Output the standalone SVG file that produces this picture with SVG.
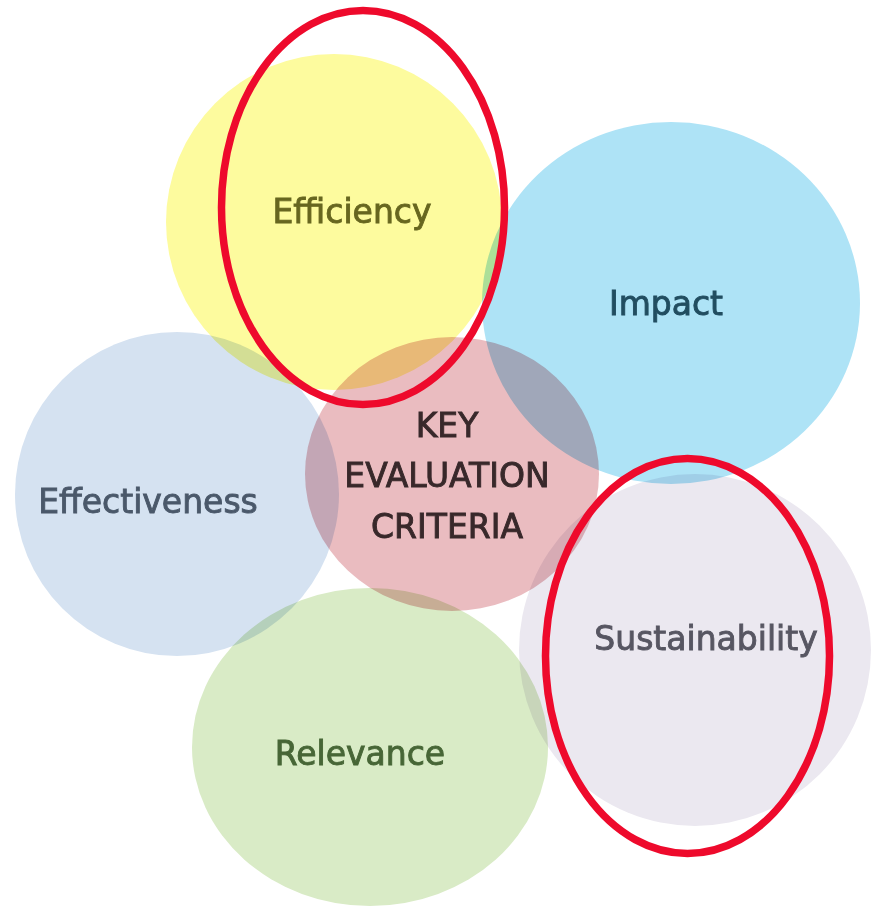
<svg xmlns="http://www.w3.org/2000/svg" width="879" height="908" viewBox="0 0 879 908">
  <style>
    .c { mix-blend-mode: multiply; }
    .t { font-family: "DejaVu Sans", "Verdana", sans-serif; font-size: 33px; text-anchor: middle; stroke-width: 0.9; paint-order: stroke; }
    .hl { fill: none; stroke: #ee0a2c; stroke-width: 7.5; }
  </style>
  <rect x="0" y="0" width="879" height="908" fill="#ffffff"/>
  <g id="efficiency">
    <circle class="c" cx="334" cy="222" r="168" fill="#fdfb9e"/>
    <text class="t" x="352" y="223" fill="#67661f" stroke="#67661f">Efficiency</text>
  </g>
  <g id="impact">
    <ellipse class="c" cx="671" cy="303" rx="189" ry="181" fill="#aee3f6"/>
    <text class="t" x="666" y="315" fill="#214d60" stroke="#214d60">Impact</text>
  </g>
  <g id="effectiveness">
    <circle class="c" cx="177" cy="494" r="162" fill="#d5e2f1"/>
    <text class="t" x="148" y="513" fill="#4a586a" stroke="#4a586a">Effectiveness</text>
  </g>
  <g id="sustainability">
    <circle class="c" cx="695" cy="650" r="176" fill="#ebe8f0"/>
    <text class="t" x="706" y="650" fill="#575662" stroke="#575662">Sustainability</text>
  </g>
  <g id="relevance">
    <ellipse class="c" cx="370" cy="747" rx="178" ry="159" fill="#d9ebc6"/>
    <text class="t" x="360" y="765" fill="#476636" stroke="#476636">Relevance</text>
  </g>
  <g id="key-evaluation-criteria">
    <ellipse class="c" cx="452" cy="474" rx="147" ry="137" fill="#eabcc0"/>
    <text class="t" x="447" y="437" fill="#38282a" stroke="#38282a">KEY</text>
    <text class="t" x="447" y="487" fill="#38282a" stroke="#38282a">EVALUATION</text>
    <text class="t" x="447" y="538" fill="#38282a" stroke="#38282a">CRITERIA</text>
  </g>
  <g id="connectors"></g>
  <g id="highlights">
    <ellipse class="hl" cx="363" cy="207.5" rx="141.5" ry="197"/>
    <ellipse class="hl" cx="687.5" cy="656" rx="142" ry="197.5"/>
  </g>
</svg>
